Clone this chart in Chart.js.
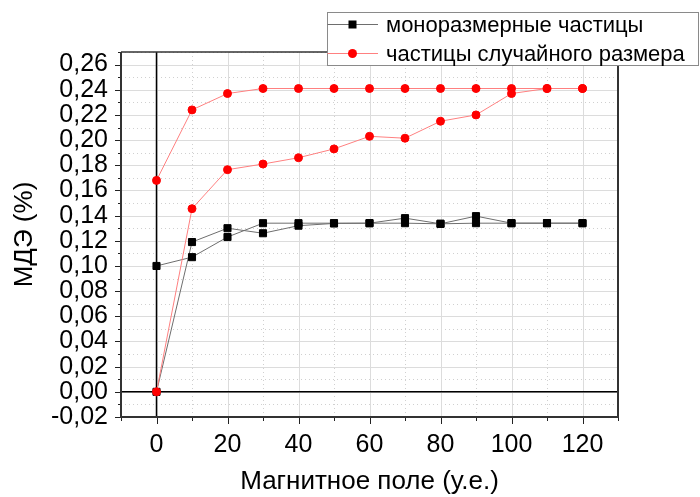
<!DOCTYPE html>
<html>
<head>
<meta charset="utf-8">
<script src="https://cdn.jsdelivr.net/npm/chart.js@4/dist/chart.umd.min.js"></script>
<style>
  html, body { margin: 0; padding: 0; background: #fff; }
  #wrap { width: 700px; height: 497px; }
</style>
</head>
<body>
<div id="wrap"><canvas id="c" width="700" height="497"></canvas></div>
<script>
// Magnetic field values (arbitrary units)
const field = [0, 10, 20, 30, 40, 50, 60, 70, 80, 90, 100, 110, 120];

// Monodisperse particles: two measurement runs
const monoRunA = [0.100, 0.107, 0.123, 0.134, 0.134, 0.134, 0.134, 0.134, 0.1335, 0.134, 0.134, 0.134, 0.134];
const monoRunB = [0.000, 0.119, 0.130, 0.126, 0.132, 0.1338, 0.134, 0.138, 0.1335, 0.1396, 0.134, 0.134, 0.134];

// Random-size particles: two measurement runs
const randRunA = [0.168, 0.224, 0.237, 0.241, 0.241, 0.241, 0.241, 0.241, 0.241, 0.241, 0.241, 0.241, 0.241];
const randRunB = [0.000, 0.1455, 0.1765, 0.181, 0.186, 0.193, 0.203, 0.2015, 0.215, 0.220, 0.237, 0.241, 0.241];

const seriesNames = ['моноразмерные частицы', 'частицы случайного размера'];
const xTitle = 'Магнитное поле (у.е.)';
const yTitle = 'МДЭ (%)';

const FONT = "'Liberation Sans', Arial, sans-serif";
const monoLine = '#6e6e6e';
const randLine = '#ff8080';

function pts(ys) { return field.map((x, i) => ({ x: x, y: ys[i] })); }

function monoSet(label, ys, showInLegend) {
  return {
    label: label, data: pts(ys), showInLegend: showInLegend,
    borderColor: monoLine, borderWidth: 1, tension: 0,
    pointStyle: 'rect', pointRadius: 5, pointHoverRadius: 5,
    pointBackgroundColor: '#000', pointBorderColor: '#000', pointBorderWidth: 1,
    order: 2
  };
}
function randSet(label, ys, showInLegend) {
  return {
    label: label, data: pts(ys), showInLegend: showInLegend,
    borderColor: randLine, borderWidth: 1, tension: 0,
    pointStyle: 'circle', pointRadius: 4, pointHoverRadius: 4,
    pointBackgroundColor: '#ff0000', pointBorderColor: '#ff0000', pointBorderWidth: 1,
    order: 1
  };
}

// Grid, tick marks, zero lines and frame around the plot area
const framePlugin = {
  id: 'frame',
  beforeDatasetsDraw(chart) {
    const { ctx, chartArea: a, scales: { x, y } } = chart;
    ctx.save();
    // minor dotted grid
    ctx.strokeStyle = '#d0d0d0';
    ctx.lineWidth = 1;
    ctx.setLineDash([1, 3]);
    x.ticks.forEach(t => {
      if (Math.round(t.value) % 20 !== 0) {
        const px = Math.round(x.getPixelForValue(t.value)) + 0.5;
        ctx.beginPath(); ctx.moveTo(px, a.top); ctx.lineTo(px, a.bottom); ctx.stroke();
      }
    });
    y.ticks.forEach(t => {
      if (Math.round(t.value * 100) % 2 !== 0) {
        const py = Math.round(y.getPixelForValue(t.value)) + 0.5;
        ctx.beginPath(); ctx.moveTo(a.left, py); ctx.lineTo(a.right, py); ctx.stroke();
      }
    });
    // major solid grid
    ctx.setLineDash([]);
    ctx.strokeStyle = '#dcdcdc';
    x.ticks.forEach(t => {
      if (Math.round(t.value) % 20 === 0) {
        const px = Math.round(x.getPixelForValue(t.value)) + 0.5;
        ctx.beginPath(); ctx.moveTo(px, a.top); ctx.lineTo(px, a.bottom); ctx.stroke();
      }
    });
    y.ticks.forEach(t => {
      if (Math.round(t.value * 100) % 2 === 0) {
        const py = Math.round(y.getPixelForValue(t.value)) + 0.5;
        ctx.beginPath(); ctx.moveTo(a.left, py); ctx.lineTo(a.right, py); ctx.stroke();
      }
    });
    // zero lines
    ctx.strokeStyle = '#000';
    ctx.lineWidth = 1.5;
    const x0 = x.getPixelForValue(0), y0 = y.getPixelForValue(0);
    ctx.beginPath(); ctx.moveTo(x0, a.top); ctx.lineTo(x0, a.bottom); ctx.stroke();
    ctx.beginPath(); ctx.moveTo(a.left, y0); ctx.lineTo(a.right, y0); ctx.stroke();
    ctx.restore();
  },
  afterDatasetsDraw(chart) {
    const { ctx, chartArea: a, scales: { x, y } } = chart;
    ctx.save();
    ctx.strokeStyle = '#222';
    ctx.lineWidth = 1;
    // outward tick marks
    x.ticks.forEach(t => {
      const px = Math.round(x.getPixelForValue(t.value)) + 0.5;
      const len = Math.round(t.value) % 20 === 0 ? 7 : 4;
      ctx.beginPath(); ctx.moveTo(px, a.bottom); ctx.lineTo(px, a.bottom + len); ctx.stroke();
    });
    y.ticks.forEach(t => {
      const py = Math.round(y.getPixelForValue(t.value)) + 0.5;
      const len = Math.round(t.value * 100) % 2 === 0 ? 6 : 3;
      ctx.beginPath(); ctx.moveTo(a.left, py); ctx.lineTo(a.left - len, py); ctx.stroke();
    });
    // frame
    ctx.strokeStyle = '#333';
    ctx.lineWidth = 1.5;
    ctx.beginPath(); ctx.moveTo(a.left, a.top); ctx.lineTo(a.right, a.top); ctx.stroke();
    ctx.lineWidth = 2;
    ctx.beginPath();
    ctx.moveTo(a.right, a.top); ctx.lineTo(a.right, a.bottom);
    ctx.lineTo(a.left, a.bottom); ctx.lineTo(a.left, a.top);
    ctx.stroke();
    ctx.restore();
  }
};

// Boxed legend with line-and-marker samples
const legendPlugin = {
  id: 'boxLegend',
  afterDraw(chart) {
    const { ctx } = chart;
    const items = chart.data.datasets.filter(d => d.showInLegend);
    const bx = 327.5, by = 12.5, bw = 371, bh = 53;
    ctx.save();
    ctx.fillStyle = '#fff';
    ctx.fillRect(bx, by, bw, bh);
    ctx.strokeStyle = '#8a8a8a';
    ctx.lineWidth = 1;
    ctx.strokeRect(bx, by, bw, bh);
    ctx.font = '22px ' + FONT;
    ctx.textBaseline = 'middle';
    ctx.textAlign = 'left';
    items.forEach((d, i) => {
      const cy = 24.5 + i * 29;
      ctx.strokeStyle = d.borderColor;
      ctx.lineWidth = 1;
      ctx.beginPath(); ctx.moveTo(bx, cy); ctx.lineTo(378, cy); ctx.stroke();
      ctx.fillStyle = d.pointBackgroundColor;
      if (d.pointStyle === 'rect') {
        ctx.fillRect(352.5 - 4, cy - 4, 8, 8);
      } else {
        ctx.beginPath(); ctx.arc(352.5, cy, 4.5, 0, Math.PI * 2); ctx.fill();
      }
      ctx.fillStyle = '#000';
      ctx.fillText(d.label, 386, cy + 1);
    });
    ctx.restore();
  }
};

new Chart(document.getElementById('c'), {
  type: 'line',
  data: {
    datasets: [
      monoSet(seriesNames[0], monoRunA, true),
      monoSet(seriesNames[0], monoRunB, false),
      randSet(seriesNames[1], randRunA, true),
      randSet(seriesNames[1], randRunB, false)
    ]
  },
  options: {
    responsive: false,
    animation: false,
    events: [],
    layout: { padding: { top: 52, right: 82, left: 0, bottom: 0 } },
    plugins: { legend: { display: false }, tooltip: { enabled: false } },
    scales: {
      x: {
        type: 'linear', min: -10, max: 130,
        afterFit(s) { s.height = 80; },
        grid: { display: false, drawTicks: false },
        border: { display: false },
        ticks: {
          stepSize: 10, padding: 13, autoSkip: false, maxRotation: 0,
          color: '#000', font: { family: FONT, size: 25 },
          callback: v => (v >= 0 && Math.round(v) % 20 === 0) ? String(v) : ''
        },
        title: { display: true, text: xTitle, color: '#000', font: { family: FONT, size: 26 }, padding: { top: 0, bottom: 0 } }
      },
      y: {
        type: 'linear', min: -0.02, max: 0.27,
        afterFit(s) { s.width = 121; },
        grid: { display: false, drawTicks: false },
        border: { display: false },
        ticks: {
          stepSize: 0.01, padding: 13, autoSkip: false,
          color: '#000', font: { family: FONT, size: 25 },
          callback: v => {
            const k = Math.round(v * 100);
            return (k % 2 === 0 && k <= 26) ? (k / 100).toFixed(2).replace('.', ',') : '';
          }
        },
        title: { display: true, text: yTitle, color: '#000', font: { family: FONT, size: 26 }, padding: { top: 9, bottom: 0 } }
      }
    }
  },
  plugins: [framePlugin, legendPlugin]
});
</script>
</body>
</html>
